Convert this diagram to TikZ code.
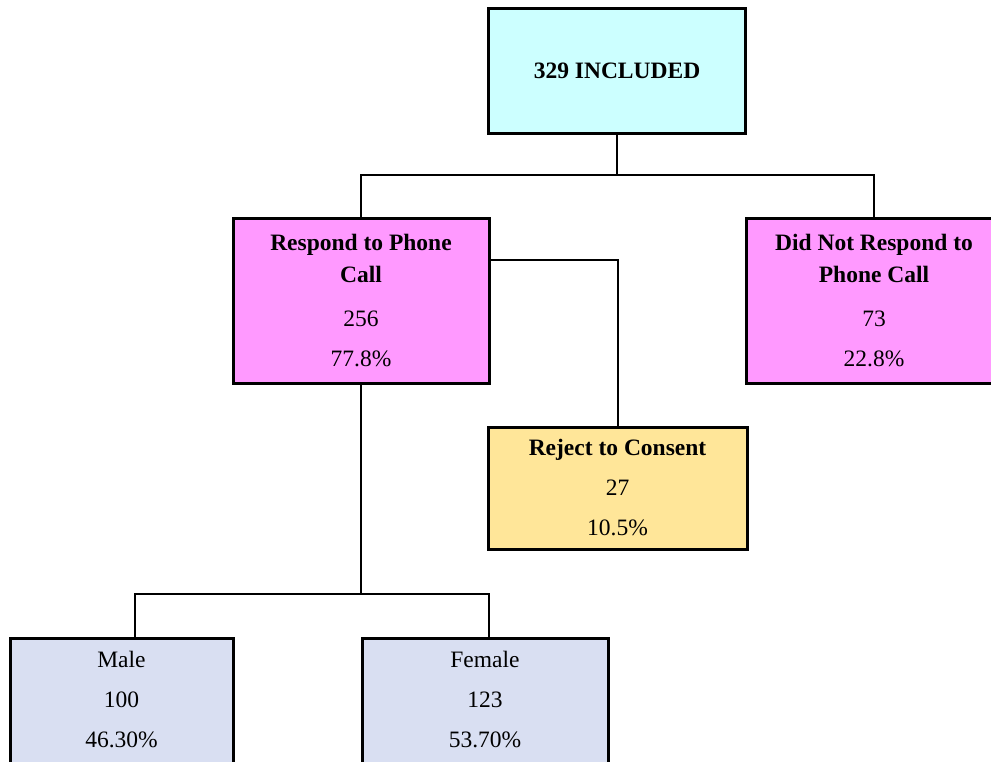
\documentclass[tikz,border=0pt]{standalone}
\usepackage{fontspec}
\setmainfont{Liberation Serif}
\definecolor{cyanbox}{HTML}{CCFFFF}
\definecolor{pinkbox}{HTML}{FF99FF}
\definecolor{yellowbox}{HTML}{FFE699}
\definecolor{bluebox}{HTML}{D9DFF2}
\begin{document}
\begin{tikzpicture}[x=1pt,y=-1pt,
  box/.style={draw=black, line width=3pt, inner sep=0pt, align=center,
    font=\fontsize{23.5}{32}\selectfont},
  link/.style={draw=black, line width=2pt}]
\useasboundingbox (0,0) rectangle (991,761);
\clip (0,0) rectangle (991,761);
% boxes
\node[box, fill=cyanbox, minimum width=257pt, minimum height=125pt] (top) at (617,70.5)
  {\textbf{329 INCLUDED}};
\node[box, fill=pinkbox, minimum width=256pt, minimum height=165pt] (resp) at (361,300.5)
  {\textbf{Respond to Phone}\\\textbf{Call}\\[12pt]256\\[8pt]77.8\%};
\node[box, fill=pinkbox, minimum width=256pt, minimum height=165pt] (noresp) at (874,300.5)
  {\textbf{Did Not Respond to}\\\textbf{Phone Call}\\[12pt]73\\[8pt]22.8\%};
\node[box, fill=yellowbox, minimum width=259pt, minimum height=122pt] (reject) at (617.5,488)
  {\textbf{Reject to Consent}\\[8pt]27\\[8pt]10.5\%};
\node[box, fill=bluebox, minimum width=223pt, minimum height=150pt, text depth=29pt,
  anchor=north] (male) at (121.5,637)
  {Male\\[8pt]100\\[8pt]46.30\%};
\node[box, fill=bluebox, minimum width=246pt, minimum height=150pt, text depth=29pt,
  anchor=north] (female) at (485,637)
  {Female\\[8pt]123\\[8pt]53.70\%};
% junctions
\coordinate (j1) at (617,175);
\coordinate (j2) at (361,594);
% connectors
\draw[link] (top.south) -- (j1);
\draw[link] (resp.north) |- (j1) -| (noresp.north);
\draw[link] ([yshift=40.5pt]resp.east) -| (reject.north);
\draw[link] (resp.south) -- (j2);
\draw[link] ([xshift=13.5pt]male.north) |- (j2) -| ([xshift=4pt]female.north);
\end{tikzpicture}
\end{document}
